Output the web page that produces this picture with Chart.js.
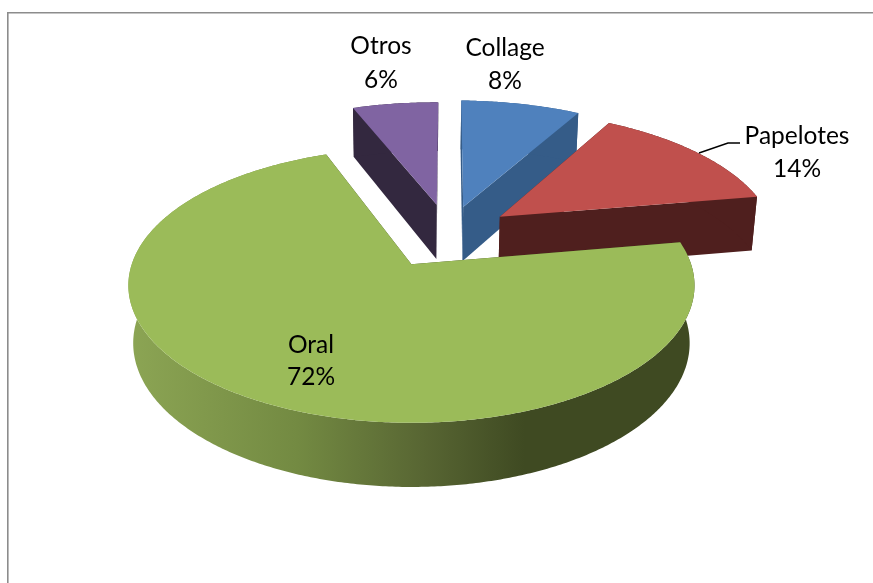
<!DOCTYPE html>
<html lang="es">
<head>
  <meta charset="UTF-8">
  <title>Pie 3D</title>
  <script src="https://cdn.jsdelivr.net/npm/chart.js"></script>
  <style>
    body { margin: 0; background: #fff; }
    canvas { display: block; }
  </style>
</head>
<body>
  <canvas id="pieChart" width="873" height="583"></canvas>

  <script>
    // data
    const categories = ['Collage', 'Papelotes', 'Oral', 'Otros'];
    const percents = [8, 14, 72, 6];

    const topColors = ['#4f81bd', '#c0504d', '#9bbb59', '#8064a2'];
    const wallColors = ['#355c88', '#4f1f1e', '#3f4a22', '#33283f'];
    const explode = [22.6, 24, 27.5, 24]; // percent of the radius
    const sliceScale = [1.05, 1.02, 1, 1.01];

    // label anchors: centre x, first baseline, second baseline
    const labelX = [505, 797, 311, 381];
    const labelY1 = [56, 144, 353, 54];
    const labelY2 = [89, 177, 385, 88];

    // perspective view of the pie plane
    const view = { x: 411, y: 264, a: 279.6, b: 134, k: 0.155, depth: 58, shrink: 0.017 };
    const centre = { u: 0.139, v: -0.237 };

    function project(u, v, z) {
      const w = 1 - view.k * v + view.shrink * z;
      return [view.x + view.a * u / w, view.y + (view.b * v + view.depth * z) / w];
    }

    function slicePoints(el, z, scale) {
      const mid = (el.startAngle + el.endAngle) / 2;
      const e = el.options.offset / 100;
      const ou = centre.u + e * Math.cos(mid);
      const ov = centre.v + e * Math.sin(mid);
      const steps = Math.ceil((el.endAngle - el.startAngle) / 0.01);
      const rim = [];
      for (let i = 0; i <= steps; i++) {
        const t = el.startAngle + (el.endAngle - el.startAngle) * i / steps;
        rim.push(project(ou + scale * Math.cos(t), ov + scale * Math.sin(t), z));
      }
      return { apex: project(ou, ov, z), rim: rim };
    }

    function fillPoly(ctx, pts, fill) {
      ctx.beginPath();
      pts.forEach((p, i) => i ? ctx.lineTo(p[0], p[1]) : ctx.moveTo(p[0], p[1]));
      ctx.closePath();
      ctx.fillStyle = fill;
      ctx.fill();
    }

    const pie3d = {
      id: 'pie3d',
      beforeDatasetsDraw(chart) {
        const ctx = chart.ctx;
        const arcs = chart.getDatasetMeta(0).data;

        // frame
        ctx.save();
        ctx.strokeStyle = '#8c8c8c';
        ctx.lineWidth = 1.6;
        ctx.beginPath();
        ctx.moveTo(7.8, 583);
        ctx.lineTo(7.8, 12.8);
        ctx.lineTo(873, 12.8);
        ctx.stroke();

        // back to front
        [3, 0, 1, 2].forEach(i => {
          const el = arcs[i];
          const top = slicePoints(el, 0, sliceScale[i]);
          const bottom = slicePoints(el, 1, sliceScale[i]);
          const last = top.rim.length - 1;

          fillPoly(ctx, [top.apex, top.rim[0], bottom.rim[0], bottom.apex], wallColors[i]);
          fillPoly(ctx, [top.apex, top.rim[last], bottom.rim[last], bottom.apex], wallColors[i]);

          let rimFill = wallColors[i];
          if (categories[i] === 'Oral') {
            rimFill = ctx.createLinearGradient(128, 0, 694, 0);
            rimFill.addColorStop(0, '#8ca554');
            rimFill.addColorStop(0.3, '#738a42');
            rimFill.addColorStop(0.52, '#586633');
            rimFill.addColorStop(0.7, '#3f4a22');
            rimFill.addColorStop(1, '#3f4a22');
          }
          fillPoly(ctx, top.rim.concat(bottom.rim.slice().reverse()), rimFill);
          fillPoly(ctx, [top.apex].concat(top.rim), topColors[i]);
        });
        ctx.restore();
        return false;
      },
      afterDraw(chart) {
        const ctx = chart.ctx;
        ctx.save();
        // leader line for Papelotes
        ctx.strokeStyle = '#000';
        ctx.lineWidth = 1.4;
        ctx.beginPath();
        ctx.moveTo(699, 153);
        ctx.lineTo(728, 143);
        ctx.lineTo(740, 143);
        ctx.stroke();

        ctx.fillStyle = '#000';
        ctx.font = '24.5px Lato, "Open Sans", sans-serif';
        ctx.textAlign = 'center';
        categories.forEach((name, i) => {
          ctx.fillText(name, labelX[i], labelY1[i]);
          ctx.fillText(percents[i] + '%', labelX[i], labelY2[i]);
        });
        ctx.restore();
      }
    };

    new Chart(document.getElementById('pieChart'), {
      type: 'pie',
      data: {
        labels: categories,
        datasets: [{
          data: percents,
          backgroundColor: topColors,
          offset: explode,
          borderWidth: 0
        }]
      },
      options: {
        responsive: false,
        animation: false,
        rotation: 1.2,
        plugins: {
          legend: { display: false },
          tooltip: { enabled: false }
        }
      },
      plugins: [pie3d]
    });
  </script>
</body>
</html>
